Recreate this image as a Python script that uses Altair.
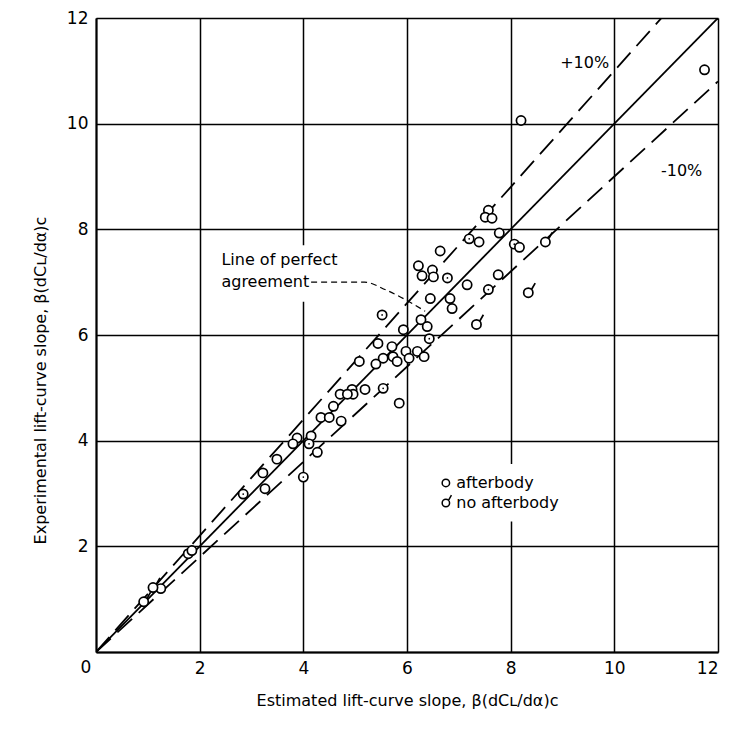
import altair as alt
import pandas as pd

# --- data ---
after_x = [11.74, 8.2, 7.57, 7.51, 7.64, 7.78, 7.2, 7.39, 8.07, 8.17, 6.64, 6.22, 6.49, 6.29,
           6.51, 6.78, 7.16, 7.76, 7.57, 6.45, 6.83, 5.52, 6.87, 6.27, 6.39, 5.93, 6.43, 5.44,
           5.71, 5.73, 5.81, 5.54, 5.98, 6.2, 6.04, 6.33, 5.08, 5.4, 5.54, 5.19, 4.94, 4.96,
           4.71, 4.85, 5.85, 4.58, 4.34, 4.5, 4.73, 3.88, 4.15, 3.8, 4.11, 4.27, 3.49, 3.22,
           4.0, 3.26, 2.84, 1.78, 1.85, 1.25]
after_y = [11.02, 10.06, 8.36, 8.23, 8.21, 7.93, 7.82, 7.76, 7.72, 7.66, 7.59, 7.31, 7.23, 7.12,
           7.1, 7.08, 6.95, 7.14, 6.86, 6.69, 6.69, 6.38, 6.5, 6.29, 6.16, 6.1, 5.93, 5.84,
           5.78, 5.59, 5.5, 5.56, 5.69, 5.69, 5.56, 5.59, 5.5, 5.45, 4.99, 4.97, 4.97, 4.88,
           4.88, 4.88, 4.71, 4.65, 4.44, 4.44, 4.37, 4.05, 4.09, 3.94, 3.94, 3.78, 3.65, 3.39,
           3.31, 3.09, 2.99, 1.86, 1.92, 1.2]
dotted_x = [5.52, 6.43, 5.54, 4.11, 4.0, 2.84, 7.2, 6.78, 7.57, 8.07]
dotted_y = [6.38, 5.93, 4.99, 3.94, 3.31, 2.99, 7.82, 7.08, 6.86, 7.72]
noaft_x = [8.67, 8.34, 7.34, 1.1, 0.92]
noaft_y = [7.76, 6.8, 6.2, 1.22, 0.95]

ref_names = ["perfect", "+10%", "-10%"]
ref_slopes = [1.0, 1.1, 0.9]
ref_end = [0, 12]

leader_x = [4.15, 5.18, 5.6, 6.35]
leader_y = [7.0, 7.0, 6.85, 6.45]

ticks = [0, 2, 4, 6, 8, 10, 12]
FONT = "DejaVu Sans"

x_title = "Estimated lift-curve slope, β(dCʟ/dα)ᴄ"
y_title = "Experimental lift-curve slope, β(dCʟ/dα)ᴄ"

tail_shape = "M -1 0 A 1 1 0 1 1 1 0 A 1 1 0 1 1 -1 0 Z M 0.7 -0.7 L 1.5 -2.1"

# --- tables ---
after_df = pd.DataFrame({"x": after_x, "y": after_y})
dot_df = pd.DataFrame({"x": dotted_x, "y": dotted_y})
noaft_df = pd.DataFrame({"x": noaft_x, "y": noaft_y})
lines_df = pd.DataFrame([{"name": n, "x": e, "y": s * e}
                         for n, s in zip(ref_names, ref_slopes) for e in ref_end])
leader_df = pd.DataFrame({"x": leader_x, "y": leader_y, "o": list(range(len(leader_x)))})

xs = alt.Scale(domain=[0, 12], nice=False)
ys = alt.Scale(domain=[0, 12], nice=False)

X = alt.X("x:Q", scale=xs, title=x_title,
          axis=alt.Axis(values=ticks, labelExpr="datum.value == 0 ? '' : datum.label",
                        grid=True, gridColor="black", gridWidth=1.5, gridOpacity=1,
                        domainColor="black", domainWidth=2, ticks=False,
                        labelFont=FONT, labelFontSize=17, labelColor="black", labelPadding=8,
                        titleFont=FONT, titleFontSize=16, titleFontWeight="normal",
                        titleColor="black", titlePadding=16))
Y = alt.Y("y:Q", scale=ys, title=y_title,
          axis=alt.Axis(values=ticks, labelExpr="datum.value == 0 ? '' : datum.label",
                        grid=True, gridColor="black", gridWidth=1.5, gridOpacity=1,
                        domainColor="black", domainWidth=2, ticks=False,
                        labelFont=FONT, labelFontSize=17, labelColor="black", labelPadding=8,
                        titleFont=FONT, titleFontSize=16, titleFontWeight="normal",
                        titleColor="black", titlePadding=18, titleY=362))

base_axes = alt.Chart(after_df).mark_point(opacity=0).encode(x=X, y=Y)

# white boxes that interrupt the grid behind the annotations
box_df = pd.DataFrame({"x": [2.35, 6.6], "x2": [5.1, 9.6], "y": [6.63, 2.47], "y2": [7.7, 3.56]})
boxes = alt.Chart(box_df).mark_rect(color="white").encode(
    x=alt.X("x:Q", scale=xs), x2="x2", y=alt.Y("y:Q", scale=ys), y2="y2")

solid = alt.Chart(lines_df[lines_df.name == "perfect"]).mark_line(
    color="black", strokeWidth=1.8, clip=True).encode(
    x=alt.X("x:Q", scale=xs), y=alt.Y("y:Q", scale=ys))
dashed = alt.Chart(lines_df[lines_df.name != "perfect"]).mark_line(
    color="black", strokeWidth=1.8, strokeDash=[20, 9], clip=True).encode(
    x=alt.X("x:Q", scale=xs), y=alt.Y("y:Q", scale=ys), detail="name:N")

leader = alt.Chart(leader_df).mark_line(
    color="black", strokeWidth=1.2, strokeDash=[6, 4], interpolate="monotone").encode(
    x=alt.X("x:Q", scale=xs), y=alt.Y("y:Q", scale=ys), order="o:Q")

pts = alt.Chart(after_df).mark_point(
    shape="circle", size=85, filled=False, fill="white", fillOpacity=1,
    stroke="black", strokeWidth=1.7, opacity=1).encode(
    x=alt.X("x:Q", scale=xs), y=alt.Y("y:Q", scale=ys))
dots = alt.Chart(dot_df).mark_point(
    shape="circle", size=3, filled=True, color="black", opacity=1).encode(
    x=alt.X("x:Q", scale=xs), y=alt.Y("y:Q", scale=ys))
tails = alt.Chart(noaft_df).mark_point(
    shape=tail_shape, size=85, filled=False, fill="white", fillOpacity=1,
    stroke="black", strokeWidth=1.7, opacity=1).encode(
    x=alt.X("x:Q", scale=xs), y=alt.Y("y:Q", scale=ys))

text_df = pd.DataFrame({
    "x": [2.42, 2.42, 9.9, 10.9, 6.95, 6.95, 0.0],
    "y": [7.42, 7.0, 11.15, 9.11, 3.2, 2.82, 0.0],
    "t": ["Line of perfect", "agreement", "+10%", "-10%", "afterbody", "no afterbody", "0"],
    "a": ["left", "left", "right", "left", "left", "left", "center"],
})
texts = []
for _, r in text_df.iterrows():
    dx, dy = (-10, 16) if r.t == "0" else (0, 0)
    fs = 17 if r.t == "0" else 16
    texts.append(alt.Chart(pd.DataFrame([r])).mark_text(
        align=r.a, baseline="middle", font=FONT, fontSize=fs, color="black", dx=dx, dy=dy).encode(
        x=alt.X("x:Q", scale=xs), y=alt.Y("y:Q", scale=ys), text="t:N"))

leg_df = pd.DataFrame({"x": [6.75], "y": [3.2]})
leg2_df = pd.DataFrame({"x": [6.75], "y": [2.82]})
leg1 = alt.Chart(leg_df).mark_point(shape="circle", size=55, filled=False, stroke="black",
                                     strokeWidth=1.5, opacity=1).encode(
    x=alt.X("x:Q", scale=xs), y=alt.Y("y:Q", scale=ys))
leg2 = alt.Chart(leg2_df).mark_point(shape=tail_shape, size=55, filled=False, stroke="black",
                                      strokeWidth=1.5, opacity=1).encode(
    x=alt.X("x:Q", scale=xs), y=alt.Y("y:Q", scale=ys))

chart = alt.layer(base_axes, boxes, solid, dashed, leader, pts, dots, tails, leg1, leg2, *texts).properties(
    width=622, height=634,
    autosize=alt.AutoSizeParams(type="none"),
    padding={"left": 88, "top": 10, "right": 17, "bottom": 70},
).configure_view(stroke="black", strokeWidth=2).configure(background="white")

chart.save("out.html", embed_options={"renderer": "svg", "actions": False})
